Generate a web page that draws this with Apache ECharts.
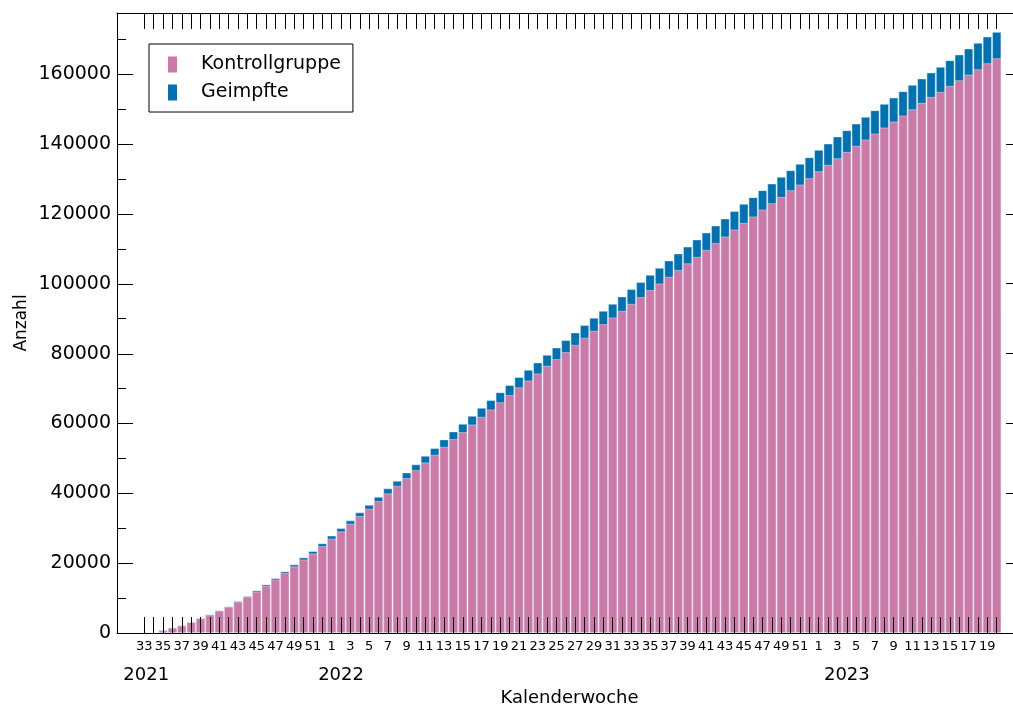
<!DOCTYPE html>
<html>
<head>
<meta charset="utf-8">
<script src="https://cdn.jsdelivr.net/npm/echarts@6/dist/echarts.min.js"></script>
<style>
  html, body { margin: 0; padding: 0; background: #fff; }
  #chart { width: 1013px; height: 711px; }
</style>
</head>
<body>
<div id="chart"></div>
<script>
// Calendar weeks 2021-W33 … 2023-W20
const weeks = [
  33, 34, 35, 36, 37, 38, 39, 40, 41, 42, 43, 44, 45, 46, 47, 48, 49, 50, 51, 52,
  1, 2, 3, 4, 5, 6, 7, 8, 9, 10, 11, 12, 13, 14, 15, 16, 17, 18, 19, 20,
  21, 22, 23, 24, 25, 26, 27, 28, 29, 30, 31, 32, 33, 34, 35, 36, 37, 38, 39, 40,
  41, 42, 43, 44, 45, 46, 47, 48, 49, 50, 51, 52,
  1, 2, 3, 4, 5, 6, 7, 8, 9, 10, 11, 12, 13, 14, 15, 16, 17, 18, 19, 20
];

const years = ['2021', '2022', '2023'];

// Cumulative counts per week
const kontrollgruppe = [
  50, 250, 780, 1500, 2170, 3100, 4230, 5250, 6380, 7480,
  8900, 10300, 11850, 13550, 15330, 17170, 19100, 21050, 22800, 24900,
  27000, 29100, 31290, 33490, 35580, 37780, 39980, 42170, 44360, 46650,
  48840, 51040, 53330, 55520, 57530, 59720, 61910, 64020, 66080, 68160,
  70360, 72310, 74320, 76510, 78420, 80420, 82510, 84530, 86520, 88430,
  90350, 92240, 94250, 96160, 98170, 100080, 101980, 103940, 105850, 107700,
  109700, 111620, 113530, 115530, 117440, 119260, 121260, 123060, 124870, 126790,
  128410, 130220, 132220, 134030, 135950, 137750, 139480, 141300, 143010, 144730,
  146450, 148170, 149970, 151770, 153500, 154930, 156650, 158270, 159900, 161420,
  163140, 164570
];

const geimpfte = [
  50, 250, 800, 1520, 2200, 3150, 4290, 5340, 6490, 7630,
  9160, 10590, 12210, 13930, 15740, 17650, 19660, 21660, 23470, 25700,
  27900, 30050, 32250, 34540, 36730, 39010, 41410, 43600, 45980, 48280,
  50750, 52950, 55430, 57720, 59910, 62200, 64480, 66690, 68930, 71020,
  73300, 75370, 77470, 79660, 81760, 83860, 86060, 88150, 90250, 92240,
  94250, 96360, 98450, 100460, 102550, 104550, 106670, 108670, 110620, 112670,
  114670, 116670, 118670, 120780, 122870, 124780, 126790, 128700, 130600, 132510,
  134320, 136230, 138330, 140150, 142150, 143960, 145870, 147780, 149680, 151490,
  153310, 155120, 156930, 158760, 160470, 162090, 164000, 165630, 167340, 168960,
  170770, 172100
];

const yMajor = [0, 20000, 40000, 60000, 80000, 100000, 120000, 140000, 160000];
const yMinor = [10000, 30000, 50000, 70000, 90000, 110000, 130000, 150000, 170000];

const FONT = 'DejaVu Sans';
const X_MIN = -2.92, X_MAX = 93.7;
const Y_MAX = 177500;
const MAJOR_LEN = 16;

const idx = weeks.map((_, i) => i);
const oddWeekIdx = idx.filter(i => i % 2 === 0);
// where each year caption sits along the week axis
const yearAnchors = [0.2, 21, 75];

const black = '#000';

// y axis that only contributes a set of tick marks along one edge of the frame
function tickOnlyAxis(position, values, length, withLine) {
  return {
    type: 'value', min: 0, max: Y_MAX, position, offset: 0, z: 5,
    axisLine: { show: !!withLine, onZero: false, lineStyle: { color: black, width: 1 } },
    axisTick: {
      show: true, inside: true, length,
      customValues: values.slice(), lineStyle: { color: black, width: 1 }
    },
    axisLabel: { show: false },
    splitLine: { show: false }
  };
}

const chart = echarts.init(document.getElementById('chart'), null, { renderer: 'canvas' });

chart.setOption({
  animation: false,
  backgroundColor: '#fff',
  textStyle: { fontFamily: FONT },
  grid: { left: 117, top: 13, width: 905, height: 620, containLabel: false, outerBoundsMode: 'none' },
  legend: {
    data: ['Kontrollgruppe', 'Geimpfte'],
    orient: 'vertical',
    left: 149,
    top: 44,
    padding: [11, 12, 10, 19],
    itemWidth: 9,
    itemHeight: 16,
    itemGap: 9,
    icon: 'rect',
    borderColor: black,
    borderWidth: 1,
    borderRadius: 0,
    backgroundColor: '#fff',
    selectedMode: false,
    itemStyle: { borderWidth: 0 },
    textStyle: { fontFamily: FONT, fontSize: 19, color: black, padding: [0, 0, 0, 19] }
  },
  xAxis: [
    {
      type: 'value', min: X_MIN, max: X_MAX, position: 'bottom', offset: 0, z: 5,
      axisLine: { show: true, onZero: false, lineStyle: { color: black, width: 1 } },
      axisTick: { show: true, inside: true, length: 16, customValues: idx, lineStyle: { color: black, width: 1 } },
      axisLabel: {
        customValues: oddWeekIdx,
        formatter: v => String(weeks[Math.round(v)]),
        fontFamily: FONT, fontSize: 13, color: black, margin: 7
      },
      splitLine: { show: false },
      name: 'Kalenderwoche',
      nameLocation: 'middle',
      nameGap: 56,
      nameTextStyle: { fontFamily: FONT, fontSize: 18, color: black }
    },
    {
      type: 'value', min: X_MIN, max: X_MAX, position: 'bottom', offset: 0,
      axisLine: { show: false, onZero: false },
      axisTick: { show: false },
      axisLabel: {
        customValues: yearAnchors,
        formatter: v => years[yearAnchors.indexOf(v)] || '',
        fontFamily: FONT, fontSize: 18, color: black, margin: 33
      },
      splitLine: { show: false }
    },
    {
      type: 'value', min: X_MIN, max: X_MAX, position: 'top', offset: 0, z: 5,
      axisLine: { show: true, onZero: false, lineStyle: { color: black, width: 1 } },
      axisTick: { show: true, inside: true, length: 16, customValues: idx, lineStyle: { color: black, width: 1 } },
      axisLabel: { show: false },
      splitLine: { show: false }
    }
  ],
  yAxis: [
    {
      type: 'value', min: 0, max: Y_MAX, position: 'left', offset: 0, z: 5,
      axisLine: { show: true, onZero: false, lineStyle: { color: black, width: 1 } },
      axisTick: { show: false },
      axisLabel: {
        customValues: yMajor.slice(),
        formatter: v => String(v),
        fontFamily: FONT, fontSize: 19, color: black, margin: 6
      },
      splitLine: { show: false },
      name: 'Anzahl',
      nameLocation: 'middle',
      nameGap: 87,
      nameMoveOverlap: false,
      nameTextStyle: { fontFamily: FONT, fontSize: 17, color: black }
    },
    tickOnlyAxis('left', yMinor, 9),
    tickOnlyAxis('right', yMajor, 16, true),
    tickOnlyAxis('right', yMinor, 9)
  ],
  series: [
    {
      name: 'Geimpfte',
      type: 'bar',
      xAxisIndex: 0,
      yAxisIndex: 0,
      barWidth: 9.37,
      barGap: '-100%',
      data: idx.map(i => [i, geimpfte[i]]),
      itemStyle: { color: '#0072B2', borderColor: 'rgba(255,255,255,0.4)', borderWidth: 1 }
    },
    {
      name: 'Kontrollgruppe',
      type: 'bar',
      xAxisIndex: 0,
      yAxisIndex: 0,
      barWidth: 9.37,
      barGap: '-100%',
      data: idx.map(i => [i, kontrollgruppe[i]]),
      itemStyle: { color: '#CC79A7', borderColor: 'rgba(255,255,255,0.4)', borderWidth: 1 }
    },
    {
      // major tick marks along the left edge of the frame, placed through the axis scales
      name: 'leftMajorTicks',
      type: 'custom',
      xAxisIndex: 0,
      yAxisIndex: 0,
      silent: true,
      clip: false,
      z: 6,
      data: yMajor.map(v => [X_MIN, v]),
      renderItem: (params, api) => {
        const p = api.coord([api.value(0), api.value(1)]);
        const x = Math.round(p[0]);
        const y = Math.round(p[1]) + 0.5;
        return {
          type: 'line',
          shape: { x1: x, y1: y, x2: x + MAJOR_LEN, y2: y },
          style: { stroke: black, lineWidth: 1 }
        };
      }
    }
  ]
});
</script>
</body>
</html>
